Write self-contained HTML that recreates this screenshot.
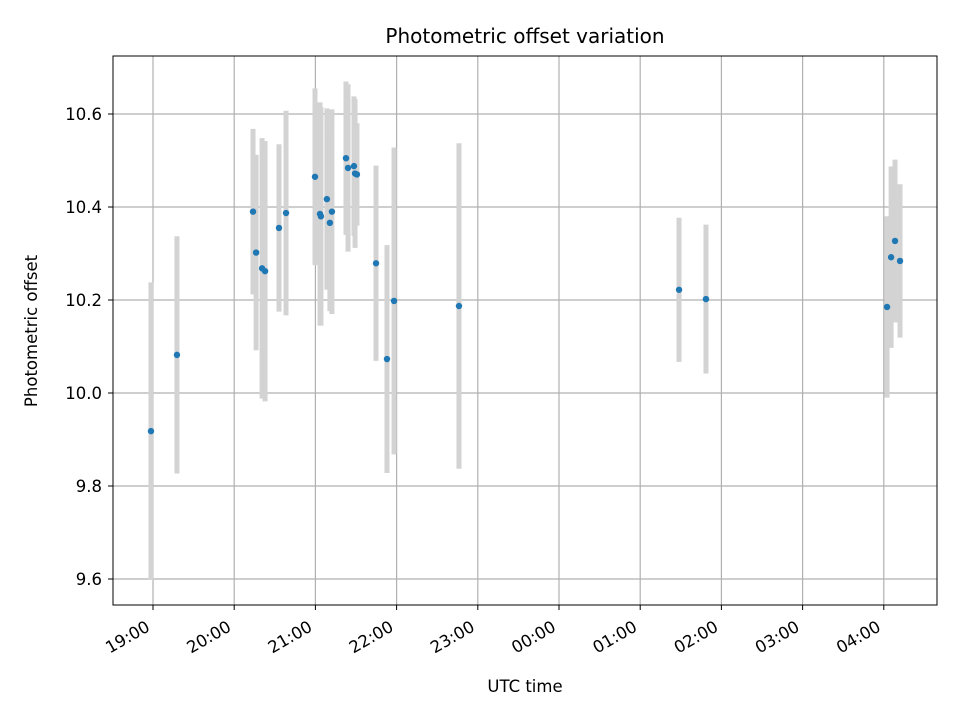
<!DOCTYPE html>
<html><head><meta charset="utf-8"><style>
body{margin:0;background:#fff}
svg{display:block;font-family:"DejaVu Sans","Liberation Sans",sans-serif}
</style></head><body>
<svg id="chart" width="960" height="720">
<rect width="960" height="720" fill="#fff"/>
<g id="grid"></g><g id="bars"></g><g id="pts"></g>
<rect x="113" y="56" width="824" height="549" fill="none" stroke="#000" stroke-width="1"/>
<g id="axes"></g>
<text x="525" y="43" text-anchor="middle" font-size="20">Photometric offset variation</text>
<text x="525" y="692" text-anchor="middle" font-size="16.5">UTC time</text>
<text transform="translate(37,331) rotate(-90)" text-anchor="middle" font-size="16.5">Photometric offset</text>
</svg>
<script>
// minutes after 19:00
const times=[-1.5,17.7,73.9,76.2,80.6,82.8,93.1,98.3,119.7,123.4,124.1,128.5,130.7,132.2,142.6,144.1,148.5,149.3,150.7,164.8,172.9,178.1,226.1,388.7,408.6,542.4,545.4,548.3,552.0];
const values=[9.918,10.082,10.39,10.302,10.268,10.262,10.355,10.387,10.465,10.385,10.38,10.417,10.366,10.39,10.505,10.484,10.488,10.472,10.47,10.279,10.073,10.198,10.187,10.222,10.202,10.185,10.292,10.327,10.284];
const errors=[0.32,0.255,0.178,0.21,0.28,0.28,0.18,0.22,0.19,0.24,0.235,0.195,0.19,0.22,0.165,0.18,0.15,0.16,0.11,0.21,0.245,0.33,0.35,0.155,0.16,0.195,0.195,0.175,0.165];
const xTickLabels=["19:00","20:00","21:00","22:00","23:00","00:00","01:00","02:00","03:00","04:00"];
const yTicks=[9.6,9.8,10.0,10.2,10.4,10.6];
const X=m=>153+m*81.2/60, Y=v=>114+(10.6-v)*465;
const NS="http://www.w3.org/2000/svg";
function mk(t,a,p){const e=document.createElementNS(NS,t);for(const k in a)e.setAttribute(k,a[k]);p.appendChild(e);return e;}
const g=document.getElementById('grid'),ax=document.getElementById('axes');
xTickLabels.forEach((l,i)=>{const x=X(i*60);
 const gl=mk('line',{x1:x,x2:x,y1:56,y2:605,stroke:'#b0b0b0','stroke-width':1.2},g);
 
 const tk=mk('line',{x1:x,x2:x,y1:605,y2:610,stroke:'#000'},ax);
 
 const tx=x-2,ty=630;
 const t=mk('text',{x:tx,y:ty,'text-anchor':'end','font-size':16.5,transform:`rotate(-30 ${tx} ${ty})`},ax);
 t.textContent=l;});
yTicks.forEach(v=>{const y=Y(v);
 const gl=mk('line',{x1:113,x2:937,y1:y,y2:y,stroke:'#b0b0b0','stroke-width':1.2},g);
 
 const tk=mk('line',{x1:108,x2:113,y1:y,y2:y,stroke:'#000'},ax);
 
 const t=mk('text',{x:102,y:y+6,'text-anchor':'end','font-size':16.5},ax);
 t.textContent=v.toFixed(1);});
const b=document.getElementById('bars'),p=document.getElementById('pts');
times.forEach((m,i)=>{const x=X(m);
 const e=mk('line',{x1:x,x2:x,y1:Y(values[i]+errors[i]),y2:Y(values[i]-errors[i]),stroke:'#d3d3d3','stroke-width':5},b);
 
 const c=mk('circle',{cx:x,cy:Y(values[i]),r:3.2,fill:'#1f77b4'},p);
 });
</script>
</body></html>
